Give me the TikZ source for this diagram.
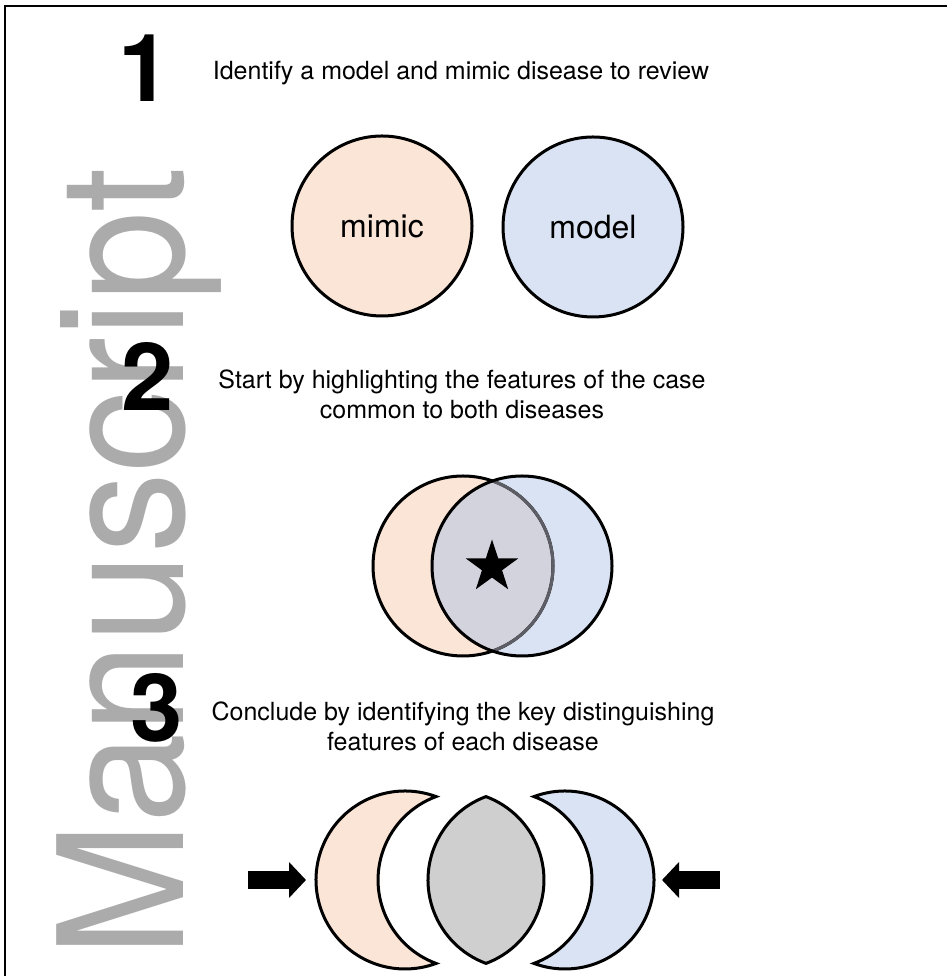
\documentclass[tikz,border=0pt]{standalone}
\usepackage{fontspec}
\setmainfont{TeX Gyre Heros}
\usetikzlibrary{arrows.meta,shapes.geometric}
\definecolor{peach}{HTML}{FBE5D6}
\definecolor{paleblue}{HTML}{DAE3F3}
\definecolor{lensgray}{HTML}{CFCFCF}
\definecolor{overlap}{HTML}{D3D3DE}
\definecolor{wmgray}{HTML}{ABABAB}
\definecolor{seethrough}{HTML}{5E5E66}

\begin{document}
\begin{tikzpicture}[x=1pt,y=1pt,
  outline/.style={draw=black,line width=3pt},
  steptext/.style={font=\fontsize{25}{30}\selectfont,align=center,inner sep=0pt},
  bignum/.style={font=\fontsize{94}{94}\selectfont\bfseries,inner sep=0pt},
  disease/.style={circle,outline,minimum size=180pt,font=\fontsize{32}{32}\selectfont},
  blockarrow/.style={line width=18pt,-{Triangle[length=17pt,width=35pt]}}]
    \useasboundingbox (0,0) rectangle (947,976);
    \def\rr{89}
    % watermark
    \node[rotate=90,xscale=0.93,anchor=base west,inner sep=0pt,text=wmgray,
      font=\fontsize{174}{174}\selectfont] (wmark) at (183,18) {Manuscript};
    \draw[line width=2pt] (5,0) -- (5,970) -- (947,970);
    % step 1
    \node[bignum] (num1) at (145,908) {1};
    \node[steptext] (step1) at (461,903) {Identify a model and mimic disease to review};
    \node[disease,fill=peach] (mimic) at (382,750) {mimic};
    \node[disease,fill=paleblue] (model) at (593,749) {model};
    % step 2
    \node[bignum] (num2) at (148,600) {2};
    \node[steptext] (step2) at (462,582) {Start by highlighting the features of the case\\common to both diseases};
    \coordinate (lc) at (463,410);\coordinate (rc) at (522,410);
    \fill[peach] (lc) circle (90);\fill[paleblue] (rc) circle (90);
    \begin{scope}
      \clip (lc) circle (90);
      \fill[overlap] (rc) circle (90);
    \end{scope}
    \draw[outline] (lc) circle (90);
    \begin{scope}
      \clip (rc) circle (90);
      \draw[line width=3pt,seethrough] (lc) circle (90);
    \end{scope}
    \draw[outline] (rc) circle (90);
    \node[star,star points=5,star point ratio=2.6,fill=black,inner sep=0pt,minimum size=55pt] (star) at (492,409) {};
    % step 3
    \node[bignum] (num3) at (157,268) {3};
    \node[steptext] (step3) at (463,250) {Conclude by identifying the key distinguishing\\features of each disease};
    \draw[outline,fill=peach] (405,96) ++(69.6:\rr) arc[start angle=69.6,end angle=290.4,radius=\rr]
      arc[start angle=249.6,end angle=110.4,radius=\rr] -- cycle;
    \draw[outline,fill=lensgray] (517,96) ++(110.4:\rr) arc[start angle=110.4,end angle=249.6,radius=\rr]
      arc[start angle=-69.6,end angle=69.6,radius=\rr] -- cycle;
    \draw[outline,fill=paleblue] (565,96) ++(110.4:\rr) arc[start angle=110.4,end angle=-110.4,radius=\rr]
      arc[start angle=-69.6,end angle=69.6,radius=\rr] -- cycle;
    \coordinate (lefttail) at (248,96);\coordinate (lefttip) at (306,96);
    \coordinate (righttail) at (720,96);\coordinate (righttip) at (662,96);
    \draw[blockarrow] (lefttail) -- (lefttip);
    \draw[blockarrow] (righttail) -- (righttip);
\end{tikzpicture}
\end{document}
